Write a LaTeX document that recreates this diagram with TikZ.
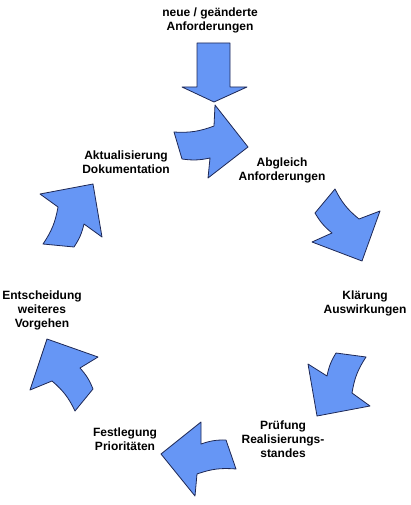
\documentclass[tikz,border=0pt]{standalone}
\usepackage{fontspec}
\setmainfont{Liberation Sans}
\definecolor{pfeilblau}{RGB}{102,150,245}
\definecolor{randblau}{RGB}{30,40,85}
\begin{document}
\begin{tikzpicture}[x=1pt, y=-1pt, line join=round, line cap=round,
		pfeil/.style={fill=pfeilblau, draw=randblau, line width=0.8pt},
		txt/.style={align=center, inner sep=0pt, font=\fontsize{12}{14}\selectfont\bfseries}]
	\useasboundingbox (0,0) rectangle (410,505);
	% Texte
	\node[txt] (neu) at (210,20) {neue / geänderte\\Anforderungen};
	\node[txt] (aktual) at (126,162) {Aktualisierung\\Dokumentation};
	\node[txt] (abgl) at (282,170) {Abgleich\\Anforderungen};
	\node[txt] (klaer) at (365,303) {Klärung\\Auswirkungen};
	\node[txt] (pruef) at (283,439) {Prüfung\\Realisierungs-\\standes};
	\node[txt] (festl) at (125,439) {Festlegung\\Prioritäten};
	\node[txt] (entsch) at (42,310) {Entscheidung\\weiteres\\Vorgehen};
	% Eingang
	\draw[pfeil] (197,43)--(230,43)--(230,87)--(247,87)--(214,102)--(182,87)--(197,87)--cycle;
	% Kreislauf
	\draw[pfeil] (174,132) to[bend right=12] (214,126)--(215,105)--(248,147)--(208,178)--(210,158) to[bend left=10] (182,159)--cycle;
	\draw[pfeil] (335,189) to[bend right=12] (359,219)--(380,211)--(362,261)--(312,242)--(332,233) to[bend left=10] (315,213)--cycle;
	\draw[pfeil] (366,357) to[bend right=12] (352,393)--(370,406)--(317,416)--(308,364)--(327,376) to[bend left=10] (336,353)--cycle;
	\draw[pfeil] (236,469) to[bend right=12] (197,474)--(195,496)--(161,454)--(201,422)--(201,444) to[bend left=10] (226,440)--cycle;
	\draw[pfeil] (75,411) to[bend right=12] (52,381)--(30,390)--(47,339)--(98,357)--(80,368) to[bend left=10] (93,389)--cycle;
	\draw[pfeil] (43,244) to[bend right=12] (58,207)--(40,194)--(93,184)--(102,237)--(84,224) to[bend left=10] (74,247)--cycle;
\end{tikzpicture}
\end{document}
